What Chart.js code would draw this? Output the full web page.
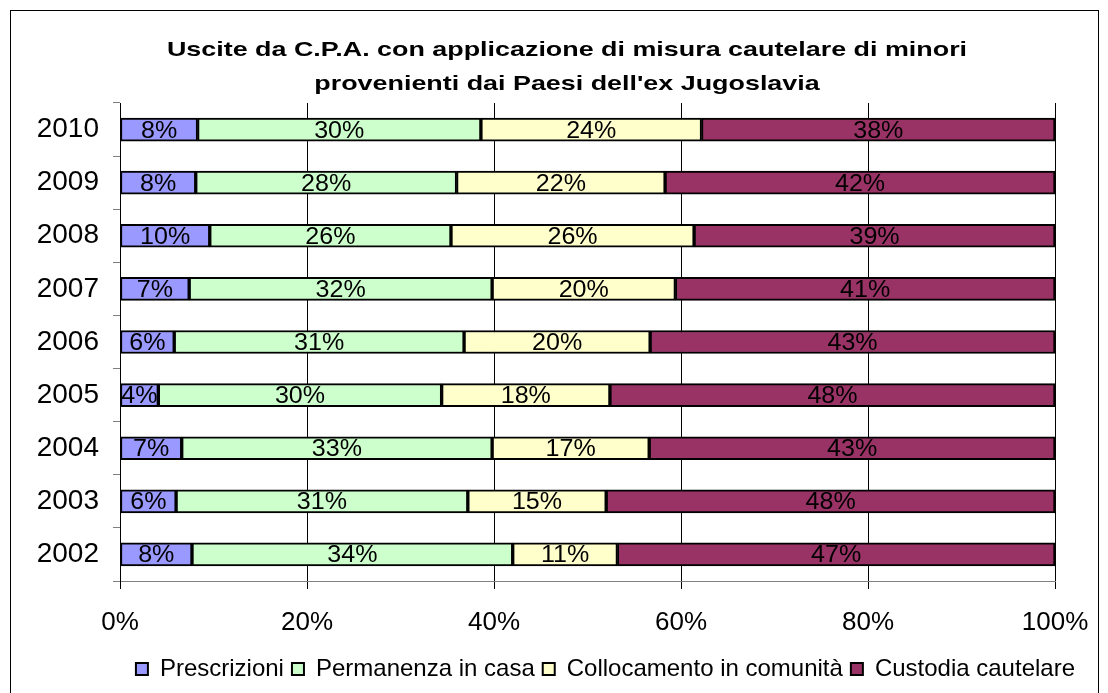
<!DOCTYPE html>
<html>
<head>
<meta charset="utf-8">
<script src="https://cdn.jsdelivr.net/npm/chart.js@4/dist/chart.umd.min.js"></script>
<style>
  html, body { margin: 0; padding: 0; background: #fff; }
  #wrap { position: relative; width: 1108px; height: 693px; }
</style>
</head>
<body>
<div id="wrap"><canvas id="grafico"></canvas></div>
<script>
// DATI (quote percentuali per anno)
const anni = ['2010', '2009', '2008', '2007', '2006', '2005', '2004', '2003', '2002'];
const prescrizioni = [8.3, 8.1, 9.6, 7.4, 5.8, 4.1, 6.6, 6.0, 7.7];
const permanenza = [30.3, 27.9, 25.8, 32.4, 31.0, 30.3, 33.2, 31.2, 34.3];
const collocamento = [23.6, 22.3, 26.0, 19.6, 19.9, 18.0, 16.8, 14.8, 11.2];
const custodia = [37.8, 41.7, 38.6, 40.6, 43.3, 47.6, 43.4, 48.0, 46.8];
const tickPercentuali = [0, 20, 40, 60, 80, 100];
const titolo = ['Uscite da C.P.A. con applicazione di misura cautelare di minori',
                'provenienti dai Paesi dell\'ex Jugoslavia'];

const FONT = '"Liberation Sans", Arial, sans-serif';

// cornice, sfondo e titolo (testo un po' allargato come nell'originale)
const cornice = {
    id: 'cornice',
    beforeDraw(chart) {
        const ctx = chart.ctx;
        ctx.save();
        ctx.fillStyle = '#fff';
        ctx.fillRect(0, 0, chart.width, chart.height);
        ctx.strokeStyle = '#000';
        ctx.lineWidth = 1;
        ctx.strokeRect(10.5, 10.5, 1088, 700);
        ctx.font = 'bold 21px ' + FONT;
        ctx.fillStyle = '#000';
        ctx.textAlign = 'center';
        ctx.textBaseline = 'alphabetic';
        titolo.forEach((riga, i) => {
            ctx.save();
            ctx.translate(567, 56 + i * 34);
            ctx.scale(1.28, 1);
            ctx.fillText(riga, 0, 0);
            ctx.restore();
        });
        ctx.restore();
    }
};

// etichette percentuali dentro le barre
const etichette = {
    id: 'etichette',
    afterDatasetsDraw(chart) {
        const ctx = chart.ctx;
        ctx.save();
        ctx.font = '23px ' + FONT;
        ctx.fillStyle = '#000';
        ctx.textAlign = 'center';
        ctx.textBaseline = 'alphabetic';
        chart.data.datasets.forEach((ds, i) => {
            chart.getDatasetMeta(i).data.forEach((bar, j) => {
                const cx = (bar.x + bar.base) / 2;
                ctx.save();
                ctx.translate(cx, bar.y + 8);
                ctx.scale(1.09, 1);
                ctx.fillText(Math.round(ds.data[j]) + '%', 0, 0);
                ctx.restore();
            });
        });
        ctx.restore();
    }
};

const serie = [
    { label: 'Prescrizioni', data: prescrizioni, color: '#9999FF' },
    { label: 'Permanenza in casa', data: permanenza, color: '#CCFFCC' },
    { label: 'Collocamento in comunità', data: collocamento, color: '#FFFFCC' },
    { label: 'Custodia cautelare', data: custodia, color: '#993366' }
];

new Chart(document.getElementById('grafico'), {
    type: 'bar',
    data: {
        labels: anni,
        datasets: serie.map(s => ({
            label: s.label,
            data: s.data,
            backgroundColor: s.color,
            borderColor: '#000',
            borderWidth: 2,
            borderSkipped: false,
            barThickness: 23
        }))
    },
    options: {
        indexAxis: 'y',
        responsive: true,
        maintainAspectRatio: false,
        animation: false,
        layout: { padding: { left: 0, right: 25, top: 103, bottom: 2 } },
        plugins: {
            title: { display: false },
            legend: {
                position: 'bottom',
                align: 'end',
                labels: {
                    font: { family: FONT, size: 24 },
                    color: '#000',
                    boxWidth: 12,
                    boxHeight: 12,
                    padding: 8
                }
            },
            tooltip: { enabled: false }
        },
        scales: {
            x: {
                stacked: true,
                min: 0,
                max: 100,
                afterBuildTicks: axis => { axis.ticks = tickPercentuali.map(v => ({ value: v })); },
                ticks: {
                    callback: v => v + '%',
                    font: { family: FONT, size: 26 },
                    color: '#000',
                    padding: 18
                },
                grid: { color: '#000', tickLength: 8, lineWidth: 1 },
                border: { color: '#808080', width: 1 },
                afterFit: axis => { axis.height = 68; axis.paddingRight = 53; }
            },
            y: {
                stacked: true,
                ticks: {
                    font: { family: FONT, size: 28 },
                    color: '#000',
                    padding: 14
                },
                grid: { drawOnChartArea: false, tickLength: 7, color: '#808080' },
                border: { color: '#000', width: 1 },
                afterFit: axis => { axis.width = 120; }
            }
        }
    },
    plugins: [cornice, etichette]
});
</script>
</body>
</html>
